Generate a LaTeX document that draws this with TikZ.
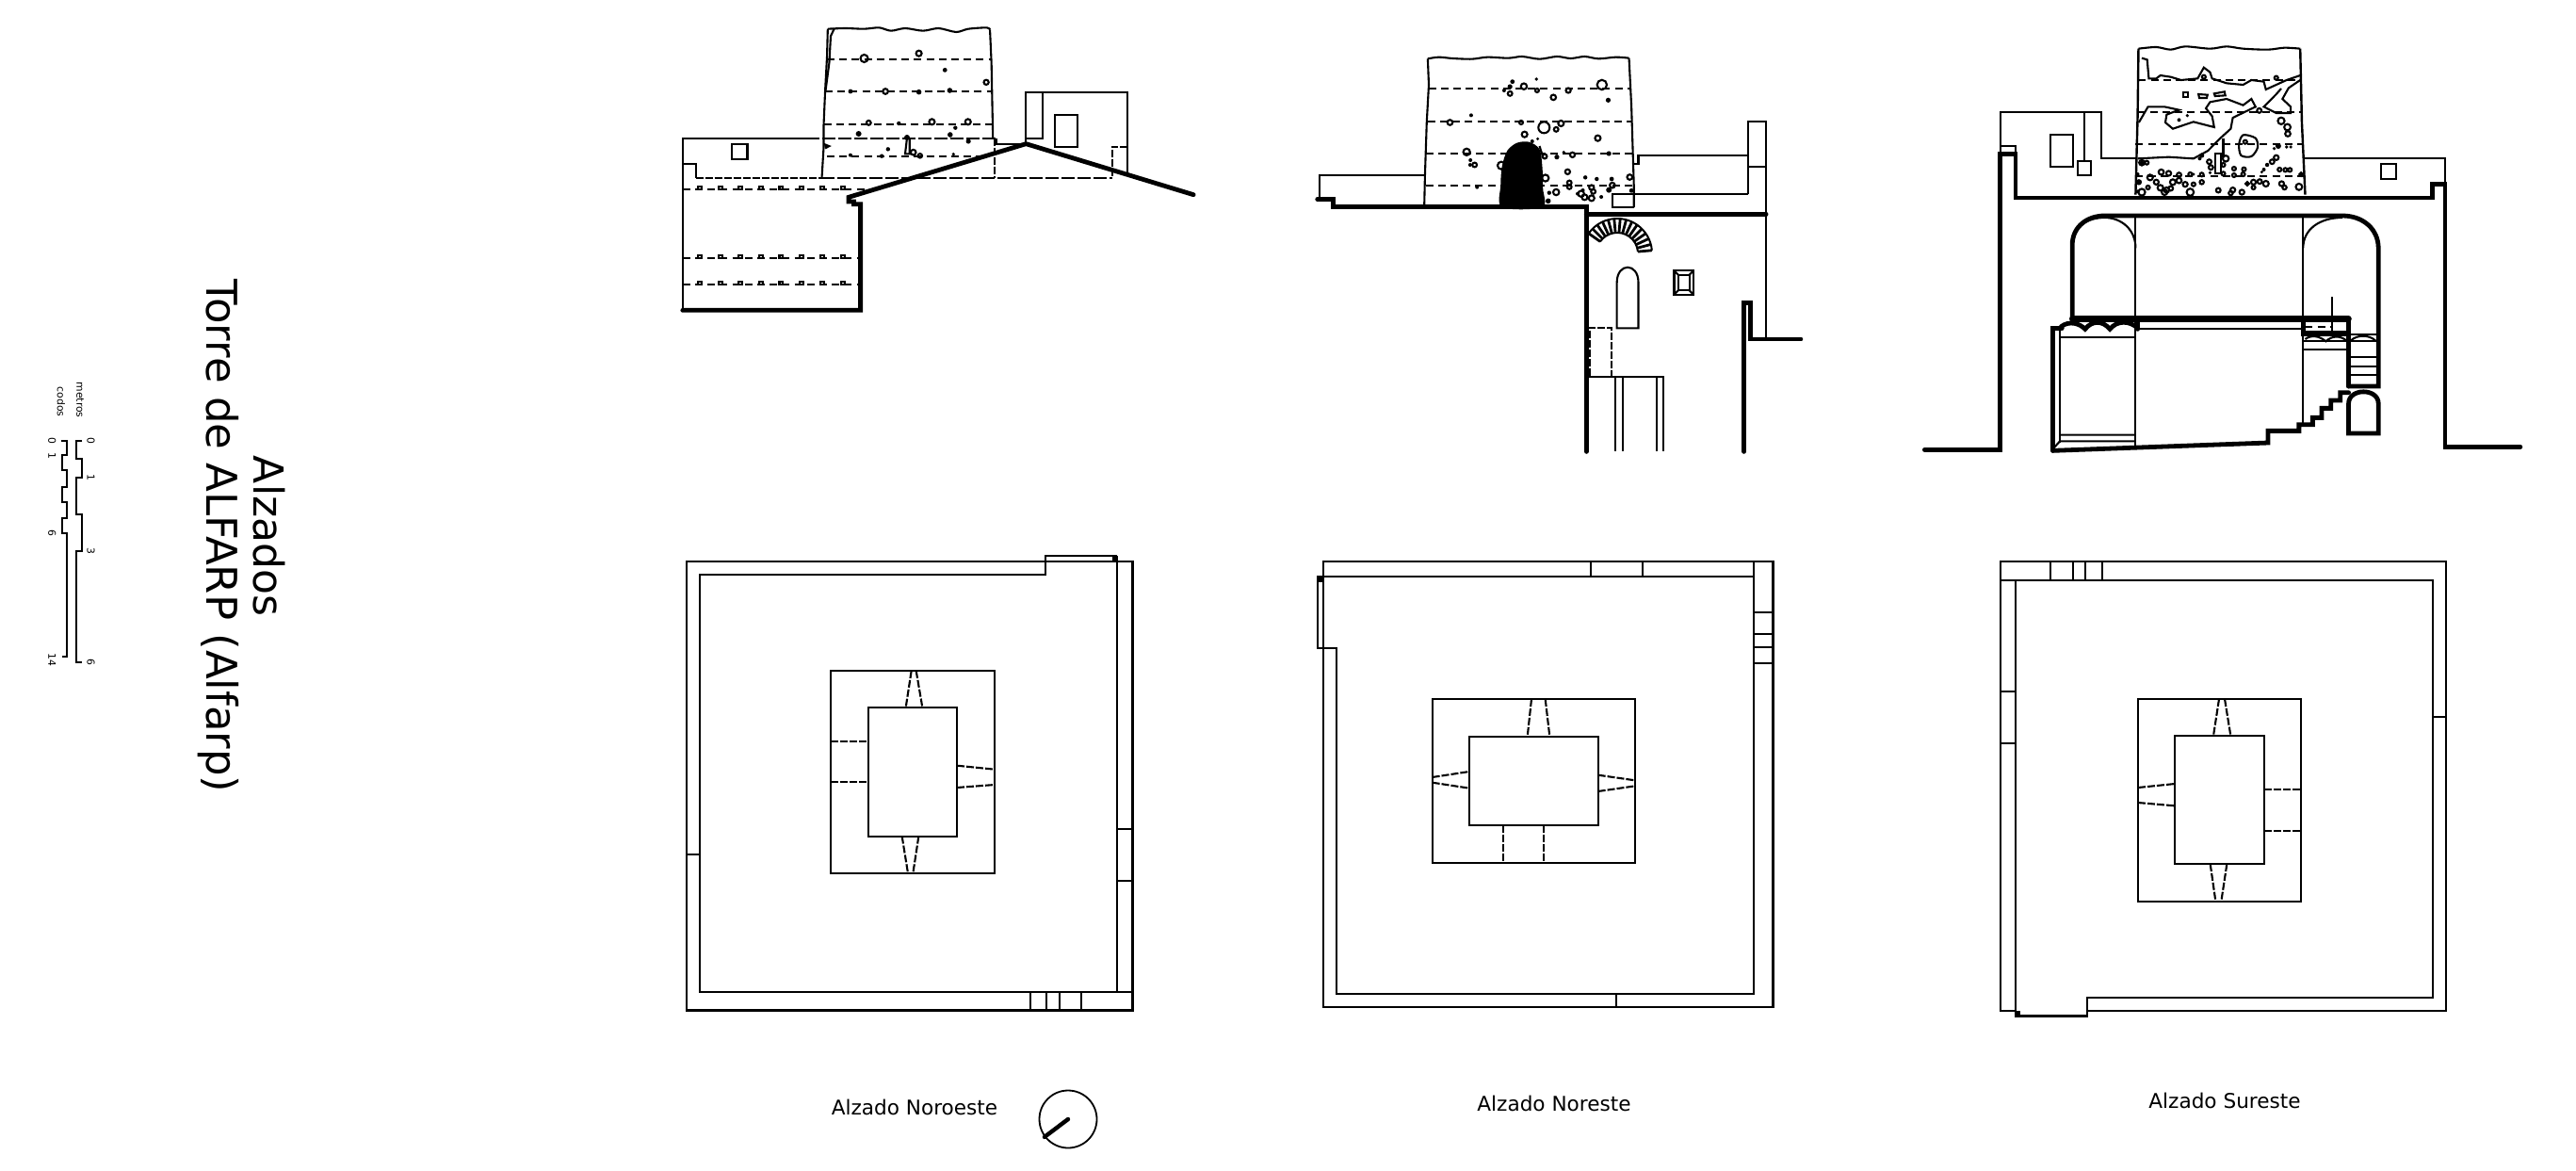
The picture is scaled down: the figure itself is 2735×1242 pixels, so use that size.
\documentclass[tikz,border=0pt]{standalone}
\usepackage{fontspec}
\setmainfont{DejaVu Sans}
\tikzset{
  thn/.style={line width=1.05pt,line join=miter},
  thk/.style={line width=2.4pt,line join=miter,line cap=round},
  mid/.style={line width=1.15pt},
  dsh/.style={line width=1.05pt,dash pattern=on 4pt off 2.6pt},
  dlg/.style={line width=1.05pt,dash pattern=on 7pt off 1.5pt},
  dpl/.style={line width=1.05pt,dash pattern=on 4pt off 1pt},
  lab/.style={inner sep=0pt,font=\fontsize{10.8pt}{12pt}\selectfont},
  zA/.style={x=0.1975pt,y=-0.16667pt,xshift=350.15pt,yshift=0pt},
  zB/.style={x=0.1842pt,y=-0.16667pt,xshift=690.15pt,yshift=-15pt},
  zC/.style={x=0.2196pt,y=-0.16667pt,xshift=1015.1pt,yshift=-15pt},
  zP/.style={x=0.16667pt,y=-0.16667pt},
}
\newcommand{\Holes}[2][thn]{\foreach \hx/\hy/\hr in {#2} \draw[#1] (\hx,\hy) circle[radius=\hr pt];}
\newcommand{\Dots}[1]{\foreach \hx/\hy/\hr in {#1} \fill (\hx,\hy) circle[radius=\hr pt];}
\newcommand{\PlanCore}[2]{\draw[mid] #1; \foreach \pa/\pb/\pc/\pd in {#2} \draw[dpl] (\pa,\pb) -- (\pc,\pd);}
\begin{document}
\begin{tikzpicture}[x=0.5pt,y=-0.5pt]
\useasboundingbox[fill=white] (0,0) rectangle (2735,1242);

% ---------- titles
\node[rotate=-90,inner sep=0pt,font=\fontsize{22.5pt}{26pt}\selectfont] (titA) at (232,569) {Torre de ALFARP (Alfarp)};
\node[rotate=-90,inner sep=0pt,font=\fontsize{22pt}{26pt}\selectfont] (titB) at (286,569) {Alzados};

% ---------- scale bars
\begin{scope}[zP,xshift=15pt,yshift=-140pt]
\draw[thn,line width=1.1pt] (172,563)--(153,563)--(153,620)--(170,620)--(170,680)--(153,680)--(153,798)--(170,798)--(170,915)--(153,915)--(153,1270)--(172,1270);
\draw[thn,line width=1.1pt] (105,563)--(123,563)--(123,610)--(107,610)--(107,658)--(123,658)--(123,712)--(107,712)--(107,760)--(123,760)--(123,810)--(107,810)--(107,857)--(123,857)--(123,1252)--(107,1252);
\tikzset{sc/.style={rotate=-90,inner sep=0pt,font=\fontsize{5.4pt}{6pt}\selectfont}}
\node[sc] (smet) at (165,434) {metros};
\node[sc] (scod) at (105,440) {codos};
\node[sc] (m0) at (200,563) {0};
\node[sc] (m1) at (200,680) {1};
\node[sc] (m3) at (200,915) {3};
\node[sc] (m6) at (200,1270) {6};
\node[sc] (c0) at (76,563) {0};
\node[sc] (c1) at (76,612) {1};
\node[sc] (c6) at (76,857) {6};
\node[sc] (c14) at (76,1262) {14};
\end{scope}

% ---------- elevation 1 (Noroeste)
\begin{scope}[zA]
\draw[thn] (395,440)--(62,440)--(62,988);
\draw[dlg] (395,440)--(905,440);
\draw[thn] (905,440)--(905,460)--(985,460);
\draw[thn] (985,458)--(985,295)--(1258,295)--(1258,552);
\draw[thn] (985,440)--(1030,440)--(1030,295);
\draw[thn] (1062,365) rectangle (1124,468);
\draw[thn] (194,458) rectangle (236,508);
\draw[dpl] (1258,468)--(1216,468)--(1216,567);
\draw[thn] (62,523)--(97,523)--(97,567);
\draw[dpl] (97,567)--(435,567);
\draw[dlg] (435,567)--(1216,567);
\draw[dpl] (900,440)--(900,567);
% tower
\draw[thn] plot[smooth] coordinates {(452,92)(500,90)(550,92)(590,88)(622,98)(660,90)(708,98)(750,90)(797,102)(830,92)(880,88)(888,95)};
\draw[thn] (452,92)--(450,180)--(445,290)--(441,400)--(441,470)--(436,567);
\draw[thn] (470,90)--(460,115)--(456,200)--(446,290);
\draw[thn] (888,95)--(892,200)--(896,440);
\draw[dsh] (450,188)--(890,188);
\draw[dsh] (445,291)--(893,291);
\draw[dsh] (442,395)--(893,395);
\draw[dsh] (450,497)--(860,497);
\draw[dsh] (62,602)--(560,602);
\draw[dsh] (62,822)--(535,822);
\draw[dsh] (62,905)--(535,905);
\foreach \hx in {108,163,218,272,327,382,437,492}{
  \draw[thn] (\hx-5,602) rectangle (\hx+5,593);
  \draw[thn] (\hx-5,822) rectangle (\hx+5,813);
  \draw[thn] (\hx-5,905) rectangle (\hx+5,896);
}
\Holes{550/186/2,697/170/1.5,878/262/1.3,607/291/1.4,732/388/1.5,829/388/1.5,700/496/1.1,682/485/1.4,562/391/1.2}
\Dots{767/223/1.2,513/291/1.2,697/293/1.4,780/288/1.4,643/393/1.1,795/407/1.1,781/429/1.4,535/426/1.5,665/438/1.5,830/450/1.3,614/475/1.1,513/494/1,597/497/1.1,790/491/.9}
\draw[thn] (665,440)--(660,490)--(672,490)--(672,440);
\fill (441,455)--(462,465)--(446,475)--cycle;
% thick section line
\draw[thk] (1435,620)--(985,458)--(508,628)--(508,642)--(522,642)--(522,650)--(540,650)--(540,988)--(62,988);
\end{scope}

% ---------- elevation 2 (Noreste)
\begin{scope}[zB]
\draw[thn] (358,467)--(55,467)--(55,545);
\draw[thn] plot[smooth] coordinates {(368,97)(400,92)(440,96)(495,98)(540,92)(600,95)(640,90)(690,98)(740,90)(780,96)(820,90)(860,97)(910,92)(948,95)};
\draw[thn] (368,97)--(371,180)--(365,300)--(360,467)--(358,565);
\draw[thn] (948,95)--(955,250)--(962,500)--(962,570);
\draw[dsh] (370,192)--(950,192);
\draw[dsh] (368,297)--(955,297);
\draw[dsh] (363,399)--(960,399);
\draw[dsh] (362,501)--(960,501);
\draw[thn] (690,375)--(700,410);
\draw[thn] (962,432)--(975,432)--(975,405)--(1292,405);
\draw[thn] (1292,527)--(1292,297)--(1343,297)--(1343,990);
\draw[thn] (1292,442)--(1343,442);
\draw[thn] (1292,527)--(900,527)--(900,570)--(962,570);
\draw[thk] (50,545)--(95,545)--(95,568)--(825,568)--(825,1348);
\draw[thk] (825,592)--(1343,592);
\draw[thn] (913,955)--(913,810) .. controls (913,745) and (975,745) .. (975,810) -- (975,955) -- cycle;
\draw[thn] (1078,772) rectangle (1134,848);
\draw[thn] (1090,785) rectangle (1122,835);
\draw[thn] (1078,772)--(1090,785) (1134,772)--(1122,785) (1078,848)--(1090,835) (1134,848)--(1122,835);
\draw[dpl] (835,1108)--(835,953)--(898,953)--(898,1108);
\draw[thn] (830,1110)--(1048,1110)--(1048,1348);
\foreach \hx in {908,930,1027} \draw[thn] (\hx,1110)--(\hx,1348);
\draw[thk] (1280,1348)--(1280,875)--(1297,875)--(1297,990)--(1443,990);
\Holes{645/185/1.6,870/180/2.6,605/208/1.2,773/198/1.3,683/198/1,730/220/1.4,432/300/1.4,637/300/1,703/316/3,752/303/1.5,738/322/1.2,647/338/1.5,858/350/1.5,480/394/1.8,503/435/1.2,705/408/1.2,785/403/1.3,707/477/1.8,771/457/1.3,950/474/1.4,776/492/1.2,776/505/1.2,840/507/1.3,900/500/1.4,845/520/1.2,738/522/1.6,840/541/1.5,810/527/1.6,820/538/1.5,580/437/2}
\Dots{605/186/1.3,612/170/1.2,588/198/1,681/162/.9,888/229/1.3,493/277/1,669/360/1,685/352/.8,890/399/1.3,740/410/1.3,760/395/.9,491/420/1,490/435/1,822/475/1.1,855/480/1.1,898/480/1.2,510/506/1,718/524/1.1,715/550/1.4,890/515/1.5,955/517/1.2,868/537/1,800/527/1,815/516/1}
\fill plot[smooth cycle] coordinates {(582,570)(578,500)(582,440)(597,390)(625,365)(660,362)(690,385)(698,440)(700,510)(698,570)};
\end{scope}
% arch (true pixel geometry)
\begin{scope}[shift={(1717,269)}]
\draw[line width=1pt] (-145:37) arc[start angle=-145,end angle=-5,radius=37];
\draw[line width=1pt] (-145:22) arc[start angle=-145,end angle=-5,radius=22];
\foreach \aa in {-145,-135,...,-5}{\draw[line width=1.4pt] (\aa:22)--(\aa:37);}
\end{scope}

% ---------- elevation 3 (Sureste)
\begin{scope}[zC]
\draw[thn] (213,400)--(213,267)--(458,267)--(458,415)--(538,415);
\draw[thn] (213,375)--(250,375)--(250,400);
\draw[thn] (417,267)--(417,423);
\draw[thn] (334,340) rectangle (388,440);
\draw[thn] (400,423) rectangle (432,467);
\draw[thn] (948,415)--(1288,415)--(1288,497);
\draw[thn] (1134,432) rectangle (1170,480);
\draw[thk] (30,1342)--(213,1342)--(213,400)--(250,400)--(250,540)--(1258,540)--(1258,497)--(1288,497)--(1288,1333)--(1470,1333);
% tower
\draw[thn] plot[smooth] coordinates {(547,65)(590,60)(625,68)(660,58)(720,65)(760,58)(800,65)(860,68)(900,62)(938,65)};
\draw[thn,line width=1.2pt] (547,65)--(545,280)--(540,530);
\draw[thn,line width=1.2pt] (938,65)--(942,300)--(950,530);
\draw[dsh] (547,165)--(940,165);
\draw[dsh] (545,267)--(944,267);
\draw[dsh] (540,369)--(946,369);
\draw[dsh] (540,470)--(948,470);
\draw[thn] plot coordinates {(555,95)(568,100)(572,160)(590,160)(600,150)(625,155)(650,165)(690,160)(705,125)(720,140)(725,160)(760,175)(800,180)(820,165)(850,170)(855,195)(880,180)(905,165)(938,150)};
\draw[thn] plot coordinates {(938,165)(910,190)(895,225)(915,250)(915,270)(880,270)(850,250)(880,210)(892,192)};
\draw[thn] plot coordinates {(548,300)(570,250)(610,250)(645,260)(615,275)(612,300)(630,320)(680,298)(730,315)(725,280)(710,255)(720,235)(760,225)(800,245)(820,225)(830,250)(775,285)(770,320)(745,350)(715,390)(680,415)(620,410)(545,415)};
\draw[thn] plot[smooth cycle] coordinates {(800,340)(830,350)(835,380)(820,408)(795,405)(790,370)};
\draw[thn] (656,204) rectangle (667,220);
\draw[thn] (692,210)--(714,212)--(712,222)--(694,222)--cycle;
\draw[thn] (730,208)--(755,202)--(757,214)--(732,216)--cycle;
\draw[thn] (732,400) rectangle (746,462);
\draw[thn] (752,350)--(752,410);
\Holes{839/262/1.2,705/155/1,880/158/1,892/295/1.8,907/315/1.7,908/336/1.4,805/362/1,555/428/1.4,567/428/1,555/430/.9,758/415/1.6,718/425/1.2,722/443/1.2,752/435/1,778/447/1,802/449/1,888/450/1,902/451/1,913/451/1,880/412/1.3,870/425/1.2,602/458/1.4,620/462/1.3,645/467/1.2,575/475/1.5,590/490/1.3,600/508/1.5,615/515/1.4,630/490/1.5,645/485/1.4,660/497/1.3,680/497/1,700/490/1.1,672/465/1,700/466/1,752/463/1,778/468/1,800/465/1,825/490/1.3,840/488/1.2,855/495/1.5,893/495/1.3,900/507/1.1,825/507/1,740/516/1.2,775/515/1.3,797/522/1.3,672/522/1.9,610/522/1.5,555/522/1.8,570/507/1,625/510/1.2,935/505/1.7,940/465/.9,770/525/1.1,810/495/.9}
\Dots{645/292/1,665/278/.9,548/490/1.6,545/520/1,545/465/1,680/465/.9,858/435/1.1,850/450/1,845/458/.8,885/375/1.5,905/378/.9,915/378/.9,875/383/.9,700/405/1.3,695/415/1,720/460/.9}
% vault
\draw[thk] (387,925)--(387,690) .. controls (387,630) and (425,597) .. (465,597) -- (1040,597) .. controls (1090,597) and (1127,640) .. (1127,700) -- (1127,1140) -- (1055,1140);
\draw[thn] (387,690) .. controls (387,630) and (425,603) .. (465,603) .. controls (505,603) and (540,640) .. (540,700);
\draw[thn] (945,700) .. controls (945,640) and (985,603) .. (1040,603);
\draw[thn] (540,603)--(540,1330);
\draw[thn] (945,603)--(945,1262);
\draw[thk,line width=3.2pt] (387,925)--(1055,925);
\draw[thk] (1055,925)--(1055,1140);
\draw[thk] (340,1345)--(340,955)--(362,955);
\draw[thk] (545,930)--(545,958);
\draw[thk] (360,950) .. controls (380,930) and (405,940) .. (418,958) .. controls (435,930) and (460,930) .. (478,958) .. controls (495,930) and (525,930) .. (545,955);
\draw[mid] (357,955)--(357,1320);
\draw[thn] (360,985)--(540,985);
\draw[thn] (545,958)--(945,958);
\draw[thn] (357,1295)--(540,1295) (357,1315)--(540,1315) (340,1340)--(357,1315);
\draw[thk] (340,1345)--(860,1320)--(860,1282)--(935,1282)--(935,1262)--(968,1262)--(968,1240)--(990,1240)--(990,1210)--(1012,1210)--(1012,1185)--(1035,1185)--(1035,1160)--(1055,1160);
% stair landing
\draw[thk] (945,925)--(945,975)--(1055,975);
\draw[thn] (1015,855)--(1015,965);
\draw[dsh] (950,950)--(1015,950);
\draw[thn] (950,965)--(1050,965);
\draw[thn] (1055,975)--(1122,975) (1058,995)--(1122,995);
\draw[thn] (947,1022)--(1052,1022) (947,997)--(1052,997);
\draw[thn] (950,990) .. controls (965,975) and (985,980) .. (1000,997) .. controls (1015,978) and (1035,978) .. (1050,995);
\draw[thn] (1060,995) .. controls (1075,975) and (1105,975) .. (1120,995);
\foreach \hy in {1048,1078,1105} \draw[thn] (1058,\hy)--(1125,\hy);
% door
\draw[thk] (1055,1290)--(1055,1195) .. controls (1055,1145) and (1127,1145) .. (1127,1195) -- (1127,1290) -- cycle;
\end{scope}

% ---------- plan 1
\begin{scope}[zP,xshift=360pt,yshift=-290pt]
\draw[mid] (1170,47)--(27,47)--(27,1477)--(1447,1477)--(1447,47)--(1398,47);
\draw[mid] (1398,30)--(1170,30)--(1170,90)--(69,90)--(69,1418)--(1398,1418)--(1398,30);
\draw[mid] (1398,1418)--(1447,1418);
\draw[thn] (1170,47)--(1398,47);
\fill (1382,30) rectangle (1398,47);
\draw[mid] (27,981)--(69,981) (1398,899)--(1447,899) (1398,1065)--(1447,1065);
\foreach \hx in {1122,1172,1214,1283} \draw[mid] (\hx,1418)--(\hx,1477);
\PlanCore{(486,396) rectangle (1008,1041) (606,513) rectangle (888,923)}{743/396/725/513,758/396/778/513,713/923/732/1041,766/923/748/1041,486/621/606/621,486/749/606/749,888/698/1008/710,888/768/1008/759}
\end{scope}

% ---------- plan 2
\begin{scope}[zP,xshift=695pt,yshift=-290pt]
\draw[mid] (45,96)--(45,47)--(1477,47)--(1477,1467)--(45,1467)--(45,323);
\draw[mid] (45,96)--(1416,96)--(1416,1424)--(87,1424)--(87,323)--(27,323)--(27,96)--(45,96)--(45,323);
\draw[mid] (1416,47)--(1416,96);
\fill (27,96) rectangle (45,113);
\draw[mid] (897,47)--(897,96) (1061,47)--(1061,96) (977,1424)--(977,1467);
\foreach \hy in {210,278,321,371} \draw[mid] (1416,\hy)--(1477,\hy);
\PlanCore{(392,486) rectangle (1038,1008) (510,606) rectangle (920,887)}{708/486/695/606,752/486/766/606,618/887/618/1008,746/887/746/1008,392/735/510/717,392/752/510/770,920/728/1038/745,920/780/1038/763}
\end{scope}

% ---------- plan 3
\begin{scope}[zP,xshift=1055pt,yshift=-290pt]
\draw[mid] (90,1478)--(41,1478)--(41,47)--(1461,47)--(1461,1478)--(318,1478);
\draw[mid] (41,107)--(1419,107)--(1419,1436)--(318,1436)--(318,1495)--(90,1495)--(90,107);
\fill (90,1478) rectangle (105,1495);
\foreach \hx in {201,273,312,366} \draw[mid] (\hx,47)--(\hx,107);
\draw[mid] (41,462)--(90,462) (41,626)--(90,626) (1419,542)--(1461,542);
\PlanCore{(480,486) rectangle (999,1130) (597,603) rectangle (882,1011)}{738/486/720/603,756/486/775/603,710/1011/727/1130,763/1011/745/1130,480/768/597/756,480/816/597/826,882/774/999/774,882/906/999/906}
\end{scope}

% ---------- captions & orientation
\node[lab] (capA) at (971,1175) {Alzado Noroeste};
\node[lab] (capB) at (1650,1171) {Alzado Noreste};
\node[lab] (capC) at (2362,1168) {Alzado Sureste};
\node[circle,draw,line width=0.9pt,minimum size=30.5pt,inner sep=0pt] (ori) at (1134,1188) {};
\coordinate (oriend) at (ori.center);
\draw[line width=2.2pt,line cap=round] (oriend)--(ori.217);
\end{tikzpicture}
\end{document}
